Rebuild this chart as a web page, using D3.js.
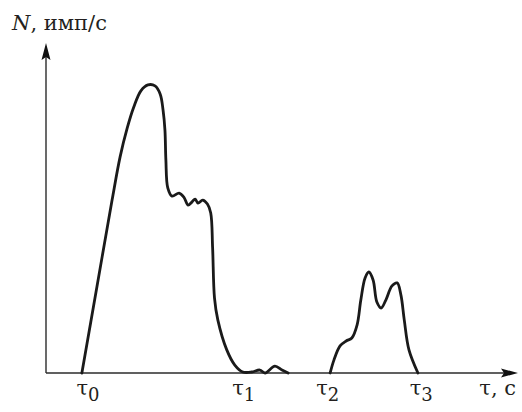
<!DOCTYPE html>
<html>
<head>
<meta charset="utf-8">
<script src="https://cdn.jsdelivr.net/npm/d3@7"></script>
<style>
  body { margin: 0; background: #fff; }
</style>
</head>
<body>
<svg id="pulse-chart-svg" width="522" height="412"></svg>
<script>
// first burst: time (arbitrary units) and count rate
var burstOneT = [0.76, 1.08, 1.40, 1.57, 1.72, 1.86, 2.01, 2.16, 2.31, 2.42, 2.48, 2.52, 2.54, 2.58, 2.67, 2.82, 2.92, 3.01, 3.09, 3.16, 3.22, 3.32, 3.42, 3.49, 3.53, 3.57, 3.64, 3.83, 4.00, 4.17, 4.36, 4.53, 4.64, 4.85, 5.00, 5.13]
var burstOneN = [0, 2.62, 5.24, 6.55, 7.42, 8.06, 8.55, 8.73, 8.70, 8.45, 7.97, 7.36, 6.45, 5.61, 5.36, 5.45, 5.33, 5.09, 5.18, 5.27, 5.15, 5.24, 5.12, 4.85, 3.79, 2.27, 1.61, 0.70, 0.24, 0.03, 0.03, 0.09, 0, 0.21, 0.09, 0]

// second burst
var burstTwoT = [6.02, 6.10, 6.23, 6.36, 6.48, 6.59, 6.67, 6.76, 6.84, 6.93, 7.01, 7.10, 7.20, 7.33, 7.44, 7.52, 7.59, 7.69, 7.88]
var burstTwoN = [0, 0.39, 0.82, 0.97, 1.06, 1.45, 2.21, 2.88, 3.06, 2.82, 2.15, 1.97, 2.21, 2.64, 2.73, 2.36, 1.61, 0.70, 0]

// marked moments on the time axis
var tickValues = [0.89, 4.19, 5.97, 7.95]
var tickSubs = ['0', '1', '2', '3']

var serif = "'DejaVu Serif', serif"

var svg = d3.select('#pulse-chart-svg')
var margin = { top: 43, right: 4, bottom: 39, left: 46 }
var svgWidth = 522
var svgHeight = 412

var x = d3.scaleLinear().domain([0, 10]).range([margin.left, svgWidth - margin.right])
var y = d3.scaleLinear().domain([0, 10]).range([svgHeight - margin.bottom, margin.top])

var axisColor = '#2b2b2b'

// x axis with arrow
svg.append('line')
  .attr('x1', x(0)).attr('y1', y(0))
  .attr('x2', x(10) - 10).attr('y2', y(0))
  .attr('stroke', axisColor)
  .attr('stroke-width', 1.4)
svg.append('path')
  .attr('d', 'M' + x(10) + ',' + y(0) + 'l-17,-4.5l3,4.5l-3,4.5z')
  .attr('fill', '#111')

// y axis with arrow
svg.append('line')
  .attr('x1', x(0)).attr('y1', y(0))
  .attr('x2', x(0)).attr('y2', y(10) + 10)
  .attr('stroke', axisColor)
  .attr('stroke-width', 1.4)
svg.append('path')
  .attr('d', 'M' + x(0) + ',' + y(10) + 'l-4.5,17l4.5,-3l4.5,3z')
  .attr('fill', '#111')

var line = d3.line()
  .x(function (d) { return x(d[0]) })
  .y(function (d) { return y(d[1]) })
  .curve(d3.curveCatmullRom.alpha(0.5))

var bursts = [
  d3.zip(burstOneT, burstOneN),
  d3.zip(burstTwoT, burstTwoN)
]

svg.append('g')
  .selectAll('path')
  .data(bursts)
  .enter()
  .append('path')
  .attr('d', line)
  .attr('fill', 'none')
  .attr('stroke', '#1a1a1a')
  .attr('stroke-width', 2.8)
  .attr('stroke-linejoin', 'round')
  .attr('stroke-linecap', 'round')

// tau labels
var tickLabels = svg.append('g')
  .selectAll('text')
  .data(tickValues)
  .enter()
  .append('text')
  .attr('x', function (d) { return x(d) })
  .attr('y', y(0) + 22)
  .attr('text-anchor', 'middle')
  .style('font-family', serif)
  .style('font-size', '21px')
  .attr('fill', '#231f20')
tickLabels.append('tspan').text('τ')
tickLabels.append('tspan')
  .attr('dy', 6)
  .style('font-size', '18px')
  .text(function (d, i) { return tickSubs[i] })

// axis titles
svg.append('text')
  .attr('x', 516)
  .attr('y', y(0) + 22)
  .attr('text-anchor', 'end')
  .style('font-family', serif)
  .style('font-size', '21px')
  .attr('fill', '#231f20')
  .text('τ, с')

var yTitle = svg.append('text')
  .attr('x', 12)
  .attr('y', 30)
  .style('font-family', serif)
  .style('font-size', '21px')
  .attr('fill', '#231f20')
yTitle.append('tspan').style('font-style', 'italic').text('N')
yTitle.append('tspan').text(', имп/с')
</script>
</body>
</html>
